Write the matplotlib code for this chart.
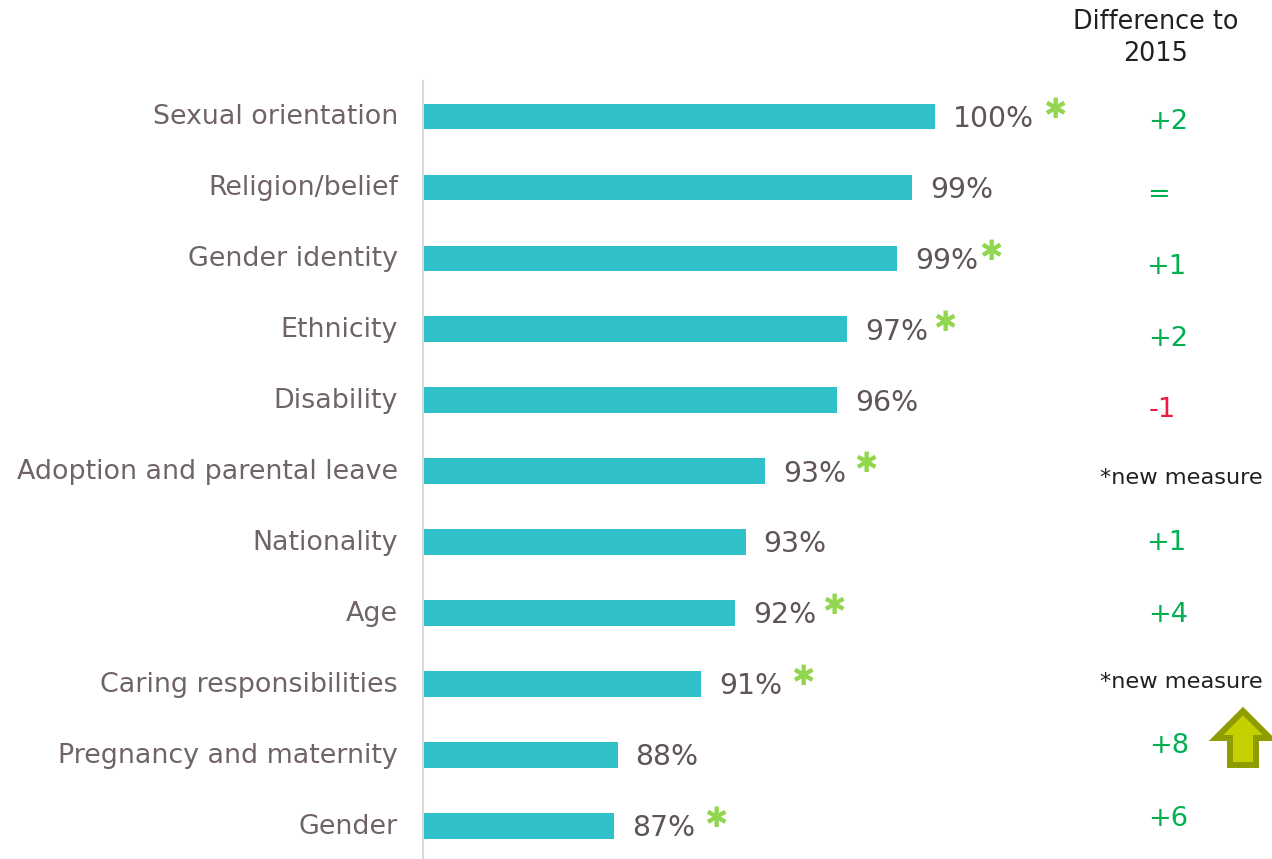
import matplotlib
matplotlib.use('Agg')
import matplotlib.pyplot as plt
from matplotlib.patches import Polygon
from matplotlib.transforms import Affine2D, ScaledTranslation

categories = ['Sexual orientation', 'Religion/belief', 'Gender identity', 'Ethnicity',
              'Disability', 'Adoption and parental leave', 'Nationality', 'Age',
              'Caring responsibilities', 'Pregnancy and maternity', 'Gender']
scores = [100, 99.1, 98.51, 96.56, 96.17, 93.36, 92.6, 92.2, 90.86, 87.6, 87.46]
starred = [True, False, True, True, False, True, False, True, True, False, True]
differences = ['+2', '=', '+1', '+2', '-1', '*new measure', '+1', '+4',
               '*new measure', '+8', '+6']
diff_header = 'Difference to\n2015'

W, H = 1272, 859
BAR = '#2fc0c8'
CAT_TEXT = '#6f6367'
VAL_TEXT = '#5f5458'
STAR = '#92d650'
GREEN = '#00b050'
RED = '#ed1c3c'
DARK = '#231f20'

plt.rcParams['font.family'] = ['DejaVu Sans']

fig = plt.figure(figsize=(W / 100, H / 100), dpi=100)
ax = fig.add_axes([423 / W, 0, 1 - 423 / W, (859 - 81) / H])
ax.set_xlim(80, 80 + (W - 423) / 25.6)
ax.set_ylim(10.46, -0.5)

rows = range(len(categories))
ax.barh(rows, scores, left=0, height=0.365, color=BAR)

for s in ['top', 'right', 'bottom']:
    ax.spines[s].set_visible(False)
ax.spines['left'].set_color('#d9d9d9')
ax.spines['left'].set_linewidth(1.5)
ax.set_xticks([])
ax.set_yticks(list(rows))
ax.set_yticklabels(categories, fontsize=19.4, color=CAT_TEXT)
ax.tick_params(axis='y', length=0, pad=18)

# nudge the category names up a touch
nudge = ScaledTranslation(0, 1.5 / 72, fig.dpi_scale_trans)
for label in ax.get_yticklabels():
    label.set_transform(label.get_transform() + nudge)

# value labels and the green stars after them
star_gap = [120, 0, 94, 98, 0, 101, 0, 98, 102, 0, 102]
for i, (v, flag) in enumerate(zip(scores, starred)):
    ax.annotate('%.0f%%' % v, (v, i), xytext=(13, -1.5), textcoords='offset points',
                ha='left', va='center', fontsize=20.4, color=VAL_TEXT)
    if flag:
        ax.annotate('\u2731', (v, i), xytext=(star_gap[i] * 0.72, 5),
                    textcoords='offset points', ha='center', va='center',
                    fontsize=20, color=STAR)


def fx(px):
    return px / W


def fy(py):
    return 1 - py / H


# right hand column, each entry sits a little off its row
diff_y = [122, 195, 267, 339, 410, 478, 543, 615, 682, 746, 819]
diff_x = [1168, 1159, 1166, 1168, 1162, 1181, 1166, 1168, 1181, 1169, 1168]
for d, x, y in zip(differences, diff_x, diff_y):
    if d.startswith('*'):
        fig.text(fx(x), fy(y), d, ha='center', va='center', fontsize=16.2, color=DARK)
    else:
        fig.text(fx(x), fy(y), d, ha='center', va='center', fontsize=19.6,
                 color=RED if d.startswith('-') else GREEN)

fig.text(fx(1156), fy(38), diff_header, ha='center', va='center', fontsize=18.4,
         color=DARK, linespacing=1.29)

# up arrow beside the +8
arrow_pts = [(1243, 711), (1270, 738), (1256, 738), (1256, 765),
             (1230, 765), (1230, 738), (1216, 738)]
to_fig = Affine2D().scale(1, -1).translate(0, H)
fig.add_artist(Polygon(arrow_pts, closed=True, facecolor='#c4d000', edgecolor='#8f9c00',
                       linewidth=4.3, joinstyle='miter', transform=to_fig))

fig.savefig('out.png', dpi=100)
